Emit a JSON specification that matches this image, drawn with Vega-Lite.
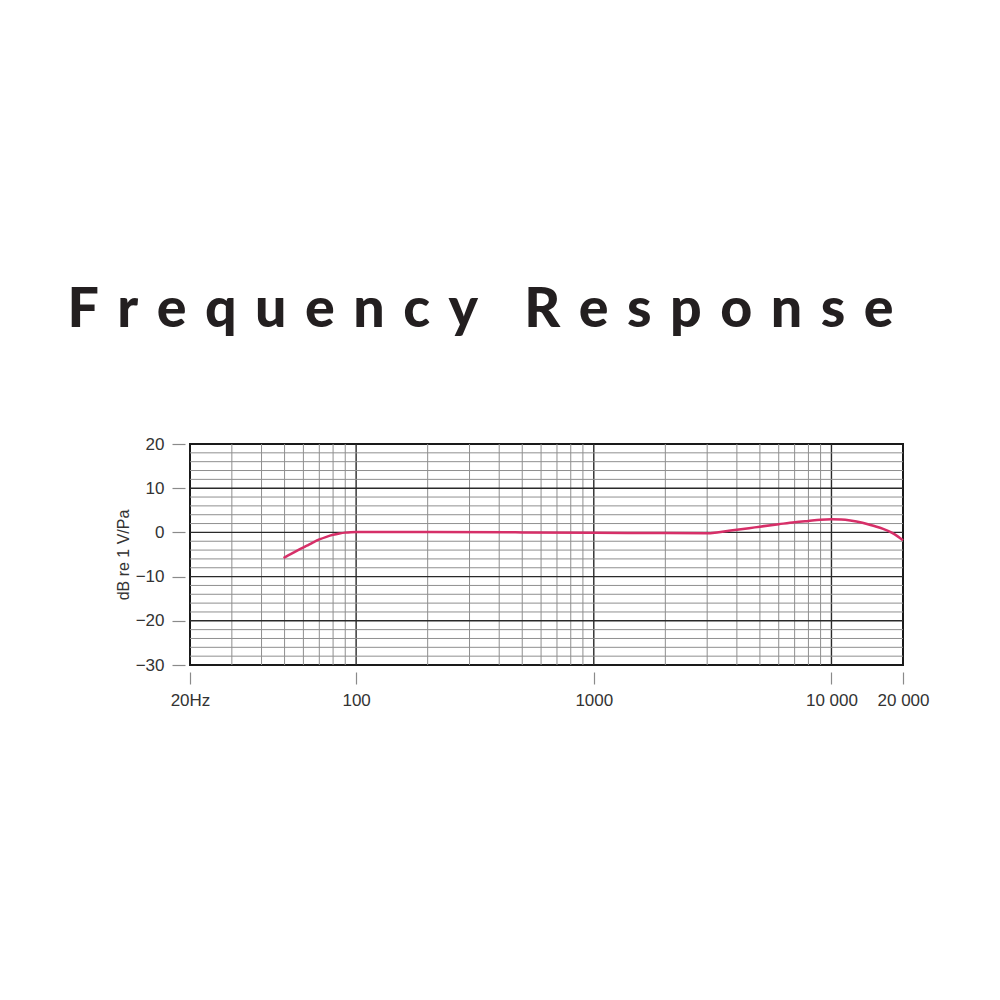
{
  "$schema": "https://vega.github.io/schema/vega-lite/v6.json",
  "width": 713,
  "height": 221,
  "autosize": "none",
  "padding": {"left": 190, "top": 444, "right": 97, "bottom": 335},
  "background": "white",
  "config": {
    "view": {"stroke": "#1a1a1a", "strokeWidth": 2},
    "font": "Liberation Sans"
  },
  "title": {
    "text": "F\u2004r\u2004e\u2004q\u2004u\u2004e\u2004n\u2004c\u2004y\u2002\u2004R\u2004e\u2004s\u2004p\u2004o\u2004n\u2004s\u2004e",
    "font": "Lato",
    "fontSize": 55.5,
    "fontWeight": 900,
    "color": "#231f20",
    "anchor": "middle",
    "frame": "group",
    "dx": -66,
    "baseline": "alphabetic",
    "offset": 53
  },
  "datasets": {
    "vgrid": [
      {"f": 30, "major": false}, {"f": 40, "major": false}, {"f": 50, "major": false},
      {"f": 60, "major": false}, {"f": 70, "major": false}, {"f": 80, "major": false},
      {"f": 90, "major": false}, {"f": 100, "major": true},
      {"f": 200, "major": false}, {"f": 300, "major": false}, {"f": 400, "major": false},
      {"f": 500, "major": false}, {"f": 600, "major": false}, {"f": 700, "major": false},
      {"f": 800, "major": false}, {"f": 900, "major": false}, {"f": 1000, "major": true},
      {"f": 2000, "major": false}, {"f": 3000, "major": false}, {"f": 4000, "major": false},
      {"f": 5000, "major": false}, {"f": 6000, "major": false}, {"f": 7000, "major": false},
      {"f": 8000, "major": false}, {"f": 9000, "major": false}, {"f": 10000, "major": true}
    ],
    "hgrid": [
      {"db": 18, "major": false}, {"db": 16, "major": false}, {"db": 14, "major": false},
      {"db": 12, "major": false}, {"db": 10, "major": true}, {"db": 8, "major": false},
      {"db": 6, "major": false}, {"db": 4, "major": false}, {"db": 2, "major": false},
      {"db": 0, "major": true}, {"db": -2, "major": false}, {"db": -4, "major": false},
      {"db": -6, "major": false}, {"db": -8, "major": false}, {"db": -10, "major": true},
      {"db": -12, "major": false}, {"db": -14, "major": false}, {"db": -16, "major": false},
      {"db": -18, "major": false}, {"db": -20, "major": true}, {"db": -22, "major": false},
      {"db": -24, "major": false}, {"db": -26, "major": false}, {"db": -28, "major": false}
    ],
    "curve": [
      {"f": 49.5, "db": -5.8}, {"f": 52, "db": -5.15}, {"f": 55, "db": -4.45},
      {"f": 58, "db": -3.8}, {"f": 62, "db": -3.0}, {"f": 66, "db": -2.25},
      {"f": 70, "db": -1.6}, {"f": 75, "db": -1.0}, {"f": 80, "db": -0.55},
      {"f": 85, "db": -0.25}, {"f": 90, "db": -0.05}, {"f": 95, "db": 0.05},
      {"f": 100, "db": 0.08}, {"f": 200, "db": 0.08}, {"f": 500, "db": 0.0},
      {"f": 1000, "db": -0.1}, {"f": 2000, "db": -0.15}, {"f": 3000, "db": -0.2},
      {"f": 3300, "db": 0.0}, {"f": 3700, "db": 0.35}, {"f": 4000, "db": 0.6},
      {"f": 4500, "db": 0.95}, {"f": 5000, "db": 1.3}, {"f": 6000, "db": 1.85},
      {"f": 7000, "db": 2.3}, {"f": 8000, "db": 2.6}, {"f": 9000, "db": 2.85},
      {"f": 10000, "db": 2.95}, {"f": 11000, "db": 2.9}, {"f": 12000, "db": 2.7},
      {"f": 13500, "db": 2.2}, {"f": 15000, "db": 1.5}, {"f": 16500, "db": 0.8},
      {"f": 18000, "db": -0.1}, {"f": 19000, "db": -0.9}, {"f": 20000, "db": -1.8}
    ]
  },
  "layer": [
    {
      "data": {"name": "vgrid"},
      "mark": {"type": "rule"},
      "encoding": {
        "x": {
          "field": "f", "type": "quantitative",
          "scale": {"type": "log", "domain": [20, 20000], "nice": false},
          "axis": {
            "values": [20, 100, 1000, 10000, 20000],
            "labelExpr": "datum.value == 20 ? '20Hz' : datum.value == 10000 ? '10 000' : datum.value == 20000 ? '20 000' : datum.value == 100 ? '100' : '1000'",
            "title": null, "domain": false, "grid": false,
            "offset": 7, "tickSize": 12, "tickColor": "#8a8a8a", "tickWidth": 1.2,
            "labelPadding": 8, "labelFontSize": 17, "labelColor": "#333333",
            "labelFont": "Liberation Sans", "labelFlush": false, "labelOverlap": false
          }
        },
        "color": {"condition": {"test": "datum.major", "value": "#2a2a2a"}, "value": "#8f8f8f"},
        "strokeWidth": {"condition": {"test": "datum.major", "value": 1.4}, "value": 1}
      }
    },
    {
      "data": {"name": "hgrid"},
      "mark": {"type": "rule"},
      "encoding": {
        "y": {
          "field": "db", "type": "quantitative",
          "scale": {"domain": [-30, 20], "nice": false, "zero": false},
          "axis": {
            "values": [-30, -20, -10, 0, 10, 20],
            "title": "dB re 1 V/Pa", "titleFontSize": 16, "titleFontWeight": "normal",
            "titleFont": "Liberation Sans", "titleColor": "#333333", "titlePadding": 4,
            "domain": false, "grid": false,
            "offset": 5, "tickSize": 13, "tickColor": "#8a8a8a", "tickWidth": 1.2,
            "labelPadding": 8, "labelFontSize": 17, "labelColor": "#333333",
            "labelFont": "Liberation Sans", "labelFlush": false, "labelOverlap": false
          }
        },
        "color": {"condition": {"test": "datum.major", "value": "#2a2a2a"}, "value": "#8f8f8f"},
        "strokeWidth": {"condition": {"test": "datum.major", "value": 1.4}, "value": 1}
      }
    },
    {
      "data": {"name": "curve"},
      "mark": {"type": "line", "interpolate": "monotone", "color": "#d62f68", "strokeWidth": 2.5},
      "encoding": {
        "x": {"field": "f", "type": "quantitative"},
        "y": {"field": "db", "type": "quantitative"}
      }
    }
  ]
}
